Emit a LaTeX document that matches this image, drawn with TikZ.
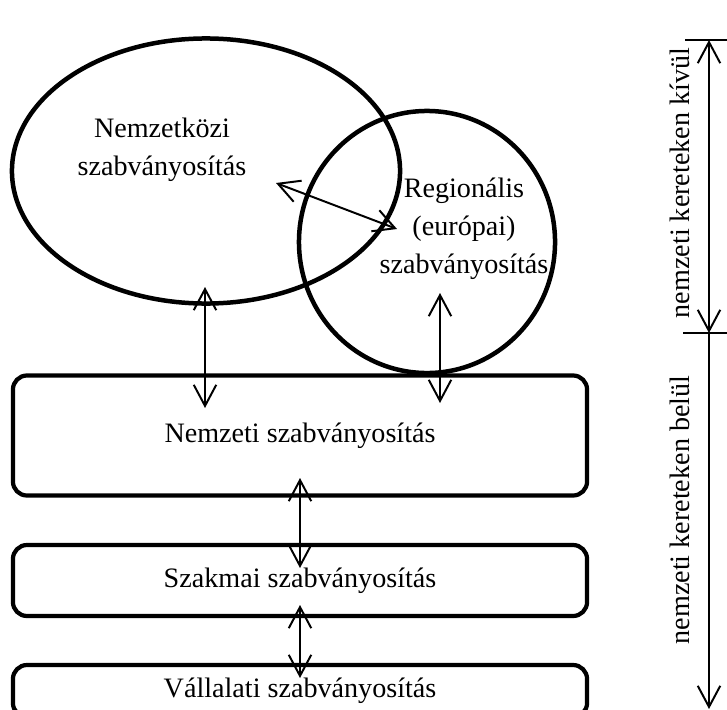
\documentclass[tikz,border=0pt]{standalone}
\usepackage{fontspec}
\setmainfont{Liberation Serif}
\usepackage{tikz}
\usetikzlibrary{shapes.geometric, arrows.meta, positioning}
\newcommand{\bigfs}{\fontsize{20pt}{27pt}\selectfont}
\tikzset{
  szell/.style={ellipse, draw, line width=3.2pt, inner sep=0pt, outer sep=0pt},
  szbox/.style={rectangle, draw, rounded corners=10pt, line width=3pt,
    minimum width=14.35cm, inner sep=0pt, font=\bigfs},
  sztext/.style={align=center, font=\bigfs, inner sep=0pt},
  darrow/.style={{Straight Barb[length=15pt,width=16pt]}-{Straight Barb[length=15pt,width=16pt]},
    line width=1.4pt},
  dimline/.style={line width=1.4pt}
}
\begin{document}
\begin{tikzpicture}[x=0.025cm, y=-0.025cm]
  \useasboundingbox (0,0) rectangle (727,709);
  % ellipses
  \node[szell, minimum width=9.7cm, minimum height=6.625cm] (intl) at (206,171) {};
  \node[szell, minimum width=6.4cm, minimum height=6.55cm] (regl) at (427,242) {};
  \node[sztext] (intltxt) at (162,150) {Nemzetközi\\szabványosítás};
  \node[sztext] (regltxt) at (464,229) {Regionális\\(európai)\\szabványosítás};
  % boxes
  \node[szbox, minimum height=3.0cm] (natl) at (300,435.5) {Nemzeti szabványosítás};
  \node[szbox, minimum height=1.775cm] (prof) at (300,580.5) {Szakmai szabványosítás};
  \node[szbox, minimum height=1.3cm] (comp) at (300,691) {Vállalati szabványosítás};
  % arrow ends
  \coordinate (a1s) at (205,287); \coordinate (a1e) at (205,408);
  \coordinate (a2s) at (440,293); \coordinate (a2e) at (440,403);
  \coordinate (a3s) at (300,478); \coordinate (a3e) at (300,568);
  \coordinate (a4s) at (300,605); \coordinate (a4e) at (300,678);
  \coordinate (a5s) at (276,183); \coordinate (a5e) at (397,229);
  \draw[darrow] (a1s) -- (a1e);
  \draw[darrow] (a2s) -- (a2e);
  \draw[darrow] (a3s) -- (a3e);
  \draw[darrow] (a4s) -- (a4e);
  \draw[darrow] (a5s) -- (a5e);
  % dimension on the right
  \coordinate (dtop) at (709,40);
  \coordinate (dmid) at (709,333);
  \coordinate (dbot) at (709,709);
  \draw[dimline] (dtop) ++(-24,0) -- ++(42,0);
  \draw[dimline] (dmid) ++(-26,0) -- ++(44,0);
  \draw[darrow] (dtop) -- (dmid);
  \draw[darrow, {-Straight Barb[length=15pt,width=16pt]}] (dmid) -- (dbot);
  \node[sztext, rotate=90] (outtxt) at (680,183) {nemzeti kereteken kívül};
  \node[sztext, rotate=90] (intxt) at (680,510) {nemzeti kereteken belül};
\end{tikzpicture}
\end{document}
